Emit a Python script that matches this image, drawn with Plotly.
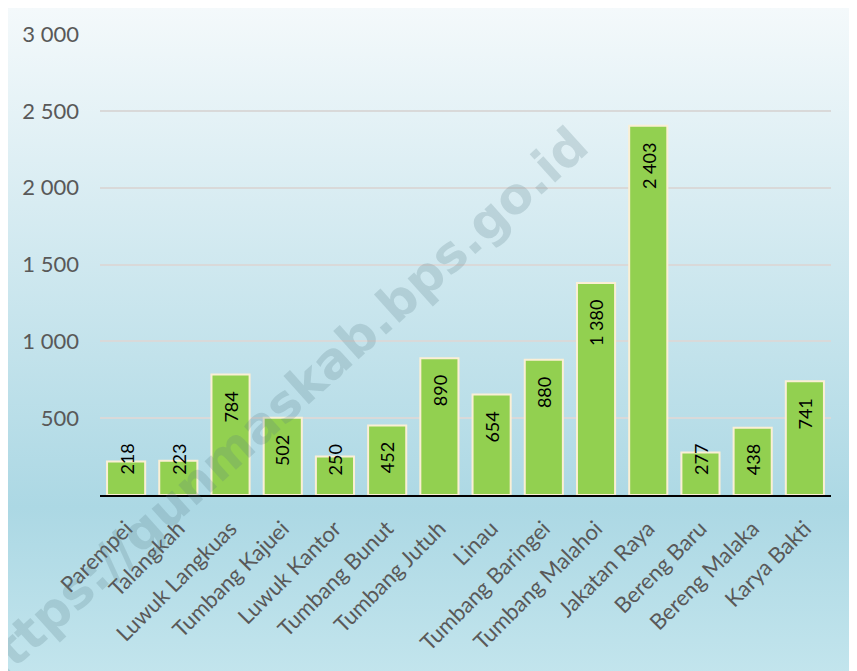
import base64
import plotly.graph_objects as go

FONT = "Lato"

desa = ["Parempei", "Talangkah", "Luwuk Langkuas", "Tumbang Kajuei", "Luwuk Kantor",
        "Tumbang Bunut", "Tumbang Jutuh", "Linau", "Tumbang Baringei", "Tumbang Malahoi",
        "Jakatan Raya", "Bereng Baru", "Bereng Malaka", "Karya Bakti"]
jumlah = [218, 223, 784, 502, 250, 452, 890, 654, 880, 1380, 2403, 277, 438, 741]
y_ticks = [500, 1000, 1500, 2000, 2500, 3000]
WATERMARK = "https://gunmaskab.bps.go.id"

# the page puts the figure 8px in from the corner
W, H = 857, 671
L, R, T, B = 92, 34, 26, 184
Y_MAX = 3000


def fmt(v):
    return "{:,}".format(v).replace(",", " ")


def gradientImage():
    svg = ('<svg xmlns="http://www.w3.org/2000/svg" width="100" height="100" '
           'preserveAspectRatio="none"><defs><linearGradient id="g" x1="0" y1="0" '
           'x2="0" y2="1"><stop offset="0" stop-color="#f4f9fb"/>'
           '<stop offset="0.744" stop-color="#acd8e4"/>'
           '<stop offset="1" stop-color="#c3e5ed"/></linearGradient></defs>'
           '<rect width="100" height="100" fill="url(#g)"/></svg>')
    return "data:image/svg+xml;base64," + base64.b64encode(svg.encode()).decode()


def px2paper(px, py):
    pw, ph = W - L - R, H - T - B
    return (px - L) / pw, (H - B - py) / ph


fig = go.Figure(go.Bar(
    x=desa, y=jumlah,
    marker=dict(color="#92d050", line=dict(color="#fbefd5", width=2)),
    hoverinfo="x+y"))

# value labels, rotated; short bars get their label pushed up from the base
ph = H - T - B
annos = []
for d, v in zip(desa, jumlah):
    if v * ph / Y_MAX < 68:
        annos.append(dict(x=d, y=0, yanchor="bottom", yshift=18, text=fmt(v)))
    else:
        annos.append(dict(x=d, y=v, yanchor="top", yshift=-15, text=fmt(v)))
for a in annos:
    a.update(showarrow=False, textangle=-90, xanchor="center",
             font=dict(family=FONT, size=18, color="black"))

wx, wy = px2paper(270, 401)
annos.append(dict(xref="paper", yref="paper", x=wx, y=wy, text=WATERMARK,
                  showarrow=False, textangle=-42, xanchor="center", yanchor="middle",
                  font=dict(family="DejaVu Sans", size=50, weight=700,
                            color="rgba(88,123,134,0.22)")))

x0, y0 = px2paper(0, 0)
x1, y1 = px2paper(W, H)

fig.update_layout(
    width=W, height=H,
    margin=dict(l=L, r=R, t=T, b=B),
    paper_bgcolor="white", plot_bgcolor="rgba(0,0,0,0)",
    separators=". ",
    bargap=0.27,
    showlegend=False,
    font=dict(family=FONT, color="#595959"),
    annotations=annos,
    images=[dict(source=gradientImage(), xref="paper", yref="paper",
                 x=x0, y=y0, sizex=x1 - x0, sizey=y0 - y1,
                 xanchor="left", yanchor="top", sizing="stretch", layer="below")],
    xaxis=dict(tickangle=-45, tickfont=dict(size=22, color="#595959"),
               showline=True, linecolor="black", linewidth=2,
               ticks="", showgrid=False, ticklabelstandoff=10),
    yaxis=dict(range=[0, Y_MAX], tickvals=y_ticks, tickformat=",d",
               tickfont=dict(size=22, color="#595959"),
               showgrid=True, gridcolor="#d9d9d9", gridwidth=1.5,
               zeroline=False, ticks="", ticklabelstandoff=20),
)

fig.write_html("out.html")
